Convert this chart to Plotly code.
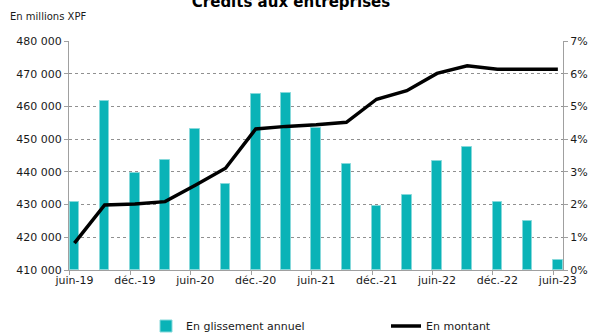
import plotly.graph_objects as go

periods = ["juin-19", "sept.-19", "déc.-19", "mars-20", "juin-20", "sept.-20", "déc.-20", "mars-21",
           "juin-21", "sept.-21", "déc.-21", "mars-22", "juin-22", "sept.-22", "déc.-22", "mars-23", "juin-23"]
glissement = [0.0207, 0.0517, 0.0297, 0.0336, 0.0431, 0.0262, 0.0537, 0.0541,
              0.0434, 0.0323, 0.0197, 0.0228, 0.0333, 0.0377, 0.0207, 0.0149, 0.0030]
montant = [418200, 429900, 430200, 430900, 435900, 441100, 453100, 453900,
           454400, 455150, 462200, 464800, 470100, 472400, 471400, 471400, 471400]
tick_labels = ["juin-19", "déc.-19", "juin-20", "déc.-20", "juin-21", "déc.-21", "juin-22", "déc.-22", "juin-23"]

xs = list(range(len(periods)))
tick_pos = xs[::2]

fig = go.Figure()
fig.add_trace(go.Bar(
    x=xs, y=glissement, name="En glissement annuel", yaxis="y",
    marker=dict(color="#0AB3B7", line=dict(color="#86D9DB", width=1)),
    width=0.32,
))
fig.add_trace(go.Scatter(
    x=xs, y=montant, name="En montant", yaxis="y2", mode="lines",
    line=dict(color="#000000", width=3.5),
))

font = dict(family="DejaVu Sans", size=11, color="#1a1a1a")
fig.update_layout(
    width=597, height=336,
    margin=dict(l=69, r=34, t=41, b=66, autoexpand=False),
    paper_bgcolor="white", plot_bgcolor="white",
    font=font,
    separators=", ",
    showlegend=True,
    bargap=0,
    title=dict(text="<b>Crédits aux entreprises</b>", x=291/597, xanchor="center",
               y=0.995, yref="container", yanchor="middle",
               font=dict(family="DejaVu Sans", size=15, color="#000")),
    xaxis=dict(
        range=[-0.18, 16.17], tickvals=tick_pos, ticktext=tick_labels,
        ticks="", showgrid=False, zeroline=False,
        showline=True, linecolor="#a0a0a0", linewidth=1,
        minor=dict(ticks="outside", tick0=-0.15, dtick=2, ticklen=4, tickcolor="#a0a0a0", showgrid=False),
        tickfont=font,
    ),
    yaxis=dict(
        side="right", range=[0, 0.07], dtick=0.01, tickformat=".0%",
        showgrid=True, gridcolor="#909090", griddash="dot", gridwidth=1,
        zeroline=False, showline=True, linecolor="#a0a0a0", linewidth=1,
        ticks="outside", ticklen=4, tickcolor="#a0a0a0", tickfont=font,
    ),
    yaxis2=dict(
        side="left", overlaying="y", range=[410000, 480000], dtick=10000,
        tickformat=",d", showgrid=False, zeroline=False,
        showline=True, linecolor="#a0a0a0", linewidth=1,
        ticks="outside", ticklen=4, tickcolor="#a0a0a0", tickfont=font,
    ),
    legend=dict(orientation="h", x=(146 - 69) / 494, xanchor="left", y=(270 - 326) / 229, yanchor="middle",
                entrywidth=195, font=font, bgcolor="rgba(0,0,0,0)"),
    annotations=[dict(text="En millions XPF", xref="paper", yref="paper",
                      x=-61 / 494, y=(270 - 16) / 229, showarrow=False,
                      xanchor="left", yanchor="middle",
                      font=dict(family="DejaVu Sans", size=10, color="#1a1a1a"))],
)

fig.write_html("out.html")
